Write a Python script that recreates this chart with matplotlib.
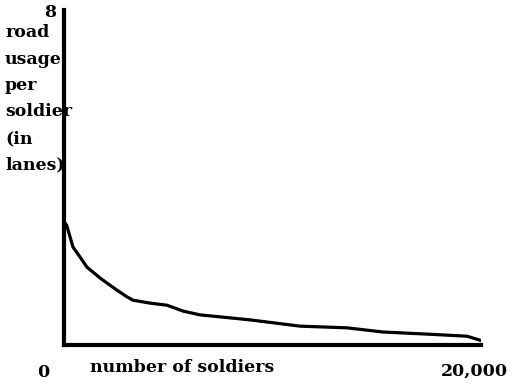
import matplotlib
matplotlib.use("Agg")
import matplotlib.pyplot as plt

# hand-drawn curve
soldiers = [0, 130, 290, 430, 770, 1100, 1730, 2060, 2540, 3020, 3310, 4130,
            4940, 5710, 6520, 8920, 11320, 13570, 15300, 17410, 19330, 20050]
usage = [2.94, 2.86, 2.58, 2.34, 2.10, 1.86, 1.60, 1.48, 1.31, 1.15, 1.07, 1.00,
         0.95, 0.81, 0.72, 0.60, 0.45, 0.41, 0.31, 0.26, 0.21, 0.10]

ylabel_lines = ["road", "usage", "per", "soldier", "(in", "lanes)"]
xlabel = "number of soldiers"
y_top_label = "8"
origin_label = "0"
x_end_label = "20,000"

W, H = 523, 391
fig = plt.figure(figsize=(W / 100, H / 100), dpi=100)
ax = fig.add_axes([64 / W, 1 - 345 / H, 417 / W, 335 / H])
ax.plot(soldiers, usage, color="black", lw=2.3, solid_capstyle="round")
ax.set_xlim(0, 20000)
ax.set_ylim(0, 8)
for s in ["top", "right"]:
    ax.spines[s].set_visible(False)
for s in ["left", "bottom"]:
    ax.spines[s].set_linewidth(3)
ax.set_xticks([])
ax.set_yticks([])


def px(x, y):
    return x / W, 1 - y / H


font = dict(family="DejaVu Serif", weight="bold", fontsize=12.5, color="black")
for i, line in enumerate(ylabel_lines):
    fig.text(*px(5, 37 + i * 26.5), line, ha="left", va="baseline", **font)
fig.text(*px(90, 372), xlabel, ha="left", va="baseline", **font)
fig.text(*px(50, 17), y_top_label, ha="center", va="baseline", **font)
fig.text(*px(43, 377), origin_label, ha="center", va="baseline", **font)
fig.text(*px(474, 376), x_end_label, ha="center", va="baseline", **font)

fig.savefig("out.png", dpi=100)
